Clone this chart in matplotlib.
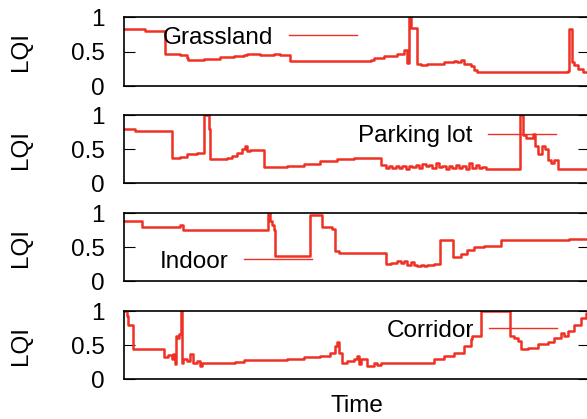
import matplotlib
matplotlib.use('Agg')
import matplotlib.pyplot as plt

plt.rcParams['font.family'] = ['Liberation Sans', 'DejaVu Sans']
plt.rcParams['font.size'] = 17.5

# time samples and LQI values for each environment
grass_t = [12, 75, 135, 180, 200, 205, 250, 300, 340, 370, 380, 420, 460, 480, 508,
           750, 760, 790, 830, 850, 858, 865, 870, 885, 890, 900, 920, 970, 1000, 1010,
           1020, 1030, 1050, 1060, 1070, 1340, 1345, 1352, 1360, 1370, 1385, 1404]
grass_lqi = [0.83, 0.79, 0.47, 0.455, 0.405, 0.38, 0.39, 0.42, 0.435, 0.455, 0.465, 0.445, 0.47, 0.455, 0.36,
             0.38, 0.405, 0.435, 0.47, 0.52, 0.33, 1.0, 0.84, 0.84, 0.32, 0.30, 0.32, 0.35, 0.36, 0.35,
             0.37, 0.32, 0.29, 0.23, 0.21, 0.22, 0.83, 0.35, 0.30, 0.25, 0.21, 0.23]

park_t = [12, 45, 155, 180, 200, 230, 250, 252, 262, 265, 268, 320, 335, 350, 365, 375, 380, 390, 432,
          500, 550, 600, 650, 700, 782, 795, 805, 815, 825, 835, 845, 855, 865, 875, 885, 895, 905,
          915, 925, 935, 945, 955, 965, 975, 985, 995, 1005, 1015, 1025, 1035, 1045, 1055, 1065,
          1075, 1085, 1095, 1110, 1198, 1205, 1215, 1235, 1242, 1250, 1262, 1272, 1280, 1290, 1300,
          1310, 1404]
park_lqi = [0.795, 0.765, 0.375, 0.39, 0.425, 0.44, 0.45, 1.0, 1.0, 0.80, 0.355, 0.365, 0.40, 0.45, 0.50, 0.54, 0.48, 0.49, 0.245,
            0.25, 0.28, 0.32, 0.35, 0.365, 0.27, 0.22, 0.25, 0.22, 0.26, 0.23, 0.25, 0.21, 0.26, 0.24, 0.27, 0.23, 0.28,
            0.25, 0.27, 0.23, 0.29, 0.24, 0.26, 0.21, 0.25, 0.22, 0.27, 0.23, 0.25, 0.21, 0.29, 0.23, 0.27,
            0.22, 0.24, 0.21, 0.215, 1.0, 0.71, 0.67, 0.72, 0.54, 0.43, 0.54, 0.50, 0.34, 0.29, 0.34,
            0.205, 0.205]

indoor_t = [12, 65, 180, 190, 443, 450, 455, 460, 465, 568, 605, 635, 645, 655, 790, 795, 810, 830,
            840, 850, 860, 870, 880, 890, 900, 910, 920, 940, 958, 998, 1020, 1040, 1060, 1090,
            1140, 1345, 1404]
indoor_lqi = [0.88, 0.795, 0.83, 0.76, 1.0, 0.88, 0.83, 0.76, 0.37, 0.98, 0.80, 0.775, 0.45, 0.41, 0.41, 0.255, 0.27, 0.295,
              0.27, 0.295, 0.245, 0.285, 0.235, 0.22, 0.245, 0.22, 0.245, 0.255, 0.61, 0.35, 0.40, 0.465, 0.50, 0.525,
              0.61, 0.62, 0.62]

corr_t = [12, 20, 25, 38, 40, 132, 145, 155, 160, 165, 168, 175, 178, 182, 186, 190, 200, 210, 220,
          230, 240, 245, 345, 370, 500, 550, 600, 630, 645, 650, 655, 665, 680, 700, 710, 715, 720,
          740, 760, 770, 780, 920, 940, 970, 1000, 1030, 1050, 1055, 1082, 1168, 1180, 1190, 1200,
          1220, 1250, 1280, 1300, 1320, 1330, 1340, 1360, 1380, 1395, 1404]
corr_lqi = [1.0, 0.93, 0.80, 0.78, 0.44, 0.32, 0.35, 0.29, 0.365, 0.22, 0.63, 0.61, 0.66, 1.0, 0.245, 0.29, 0.27, 0.365, 0.245,
            0.27, 0.195, 0.235, 0.255, 0.28, 0.30, 0.32, 0.34, 0.39, 0.49, 0.54, 0.39, 0.245, 0.27, 0.30, 0.34, 0.22, 0.29,
            0.195, 0.245, 0.205, 0.235, 0.235, 0.29, 0.34, 0.39, 0.49, 0.585, 0.635, 1.0, 0.635, 0.61, 0.56, 0.44,
            0.465, 0.51, 0.54, 0.61, 0.68, 0.635, 0.71, 0.80, 0.90, 0.975, 1.0]

series = [
    ('Grassland', grass_t, grass_lqi, (0.084, 0.70)),
    ('Parking lot', park_t, park_lqi, (0.503, 0.69)),
    ('Indoor', indoor_t, indoor_lqi, (0.076, 0.29)),
    ('Corridor', corr_t, corr_lqi, (0.564, 0.71)),
]

# axes boxes in pixels (top, bottom)
boxes = [(17, 86), (115, 183.3), (213.3, 281.3), (311, 379.3)]

W, H = 587, 419
fig = plt.figure(figsize=(W / 100, H / 100), dpi=100)
red = '#ee3124'

for (name, t, lqi, legpos), (top, bot) in zip(series, boxes):
    ax = fig.add_axes([124 / W, 1 - bot / H, 465 / W, (bot - top) / H])
    ax.plot(t, lqi, color=red, lw=1.8, drawstyle='steps-post', label=name)
    ax.set_xlim(12, 1404)
    ax.set_ylim(0, 1)
    ax.set_yticks([0, 0.5, 1])
    ax.set_yticklabels(['0', '0.5', '1'])
    ax.set_xticks([])
    ax.tick_params(axis='y', direction='in', length=8, width=0.8, left=True, right=True, pad=14)
    for sp in ax.spines.values():
        sp.set_linewidth(1.2)
    ax.set_ylabel('LQI', labelpad=28)
    leg = ax.legend(loc='center left', bbox_to_anchor=legpos, frameon=False,
                    markerfirst=False, borderpad=0, borderaxespad=0,
                    handlelength=2.8, handletextpad=0.65)
    leg.get_lines()[0].set_linewidth(1.0)

ax.set_xlabel('Time', labelpad=11)

fig.savefig('out.png', dpi=100)
